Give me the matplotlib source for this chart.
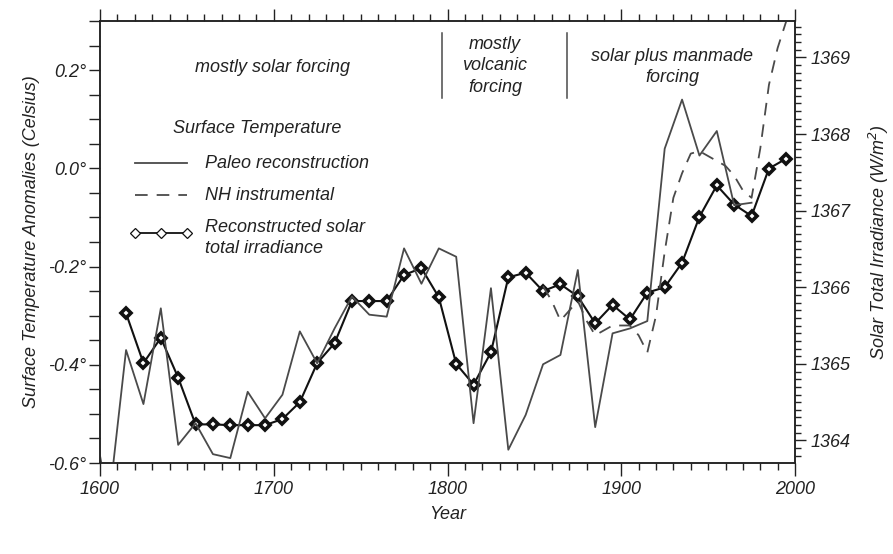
import matplotlib
matplotlib.use("Agg")
import matplotlib.pyplot as plt
from matplotlib.ticker import MultipleLocator, FixedLocator, FuncFormatter

plt.rcParams['font.family'] = ['Liberation Sans', 'DejaVu Sans']
plt.rcParams['font.style'] = 'italic'

# ---------------- data ----------------
paleo_years = [1595, 1605, 1615, 1625, 1635, 1645, 1655, 1665, 1675, 1685,
               1695, 1705, 1715, 1725, 1735, 1745, 1755, 1765, 1775, 1785,
               1795, 1805, 1815, 1825, 1835, 1845, 1855, 1865, 1875, 1885,
               1895, 1905, 1915, 1925, 1935, 1945, 1955, 1965, 1975]
paleo_temp = [-0.485, -0.685, -0.370, -0.480, -0.285, -0.563, -0.519, -0.582, -0.590, -0.455,
              -0.509, -0.461, -0.332, -0.397, -0.326, -0.261, -0.298, -0.302, -0.163, -0.235,
              -0.163, -0.180, -0.519, -0.244, -0.573, -0.502, -0.399, -0.380, -0.207, -0.527,
              -0.336, -0.326, -0.311, 0.040, 0.140, 0.026, 0.076, -0.075, -0.070]

nh_years = [1855, 1860, 1865, 1870, 1875, 1880, 1885, 1890, 1895, 1900,
            1905, 1910, 1915, 1920, 1925, 1930, 1935, 1940, 1945, 1950,
            1955, 1960, 1965, 1970, 1975, 1980, 1985, 1990, 1995]
nh_temp = [-0.24, -0.27, -0.31, -0.29, -0.27, -0.31, -0.34, -0.33, -0.32, -0.32,
           -0.32, -0.34, -0.375, -0.30, -0.17, -0.06, -0.01, 0.03, 0.035, 0.025,
           0.015, 0.005, -0.015, -0.045, -0.06, 0.04, 0.17, 0.245, 0.30]

solar_years = [1615, 1625, 1635, 1645, 1655, 1665, 1675, 1685, 1695, 1705,
               1715, 1725, 1735, 1745, 1755, 1765, 1775, 1785, 1795, 1805,
               1815, 1825, 1835, 1845, 1855, 1865, 1875, 1885, 1895, 1905,
               1915, 1925, 1935, 1945, 1955, 1965, 1975, 1985, 1995]
solar_tsi = [1365.66, 1365.01, 1365.34, 1364.82, 1364.21, 1364.21, 1364.20, 1364.20, 1364.20, 1364.28,
             1364.50, 1365.01, 1365.27, 1365.82, 1365.82, 1365.82, 1366.16, 1366.25, 1365.87, 1365.00,
             1364.73, 1365.15, 1366.13, 1366.19, 1365.95, 1366.04, 1365.88, 1365.53, 1365.77, 1365.58,
             1365.93, 1366.00, 1366.32, 1366.92, 1367.33, 1367.08, 1366.93, 1367.55, 1367.68]

left_ticks = [-0.6, -0.4, -0.2, 0.0, 0.2]
right_ticks = [1364, 1365, 1366, 1367, 1368, 1369]
x_ticks = [1600, 1700, 1800, 1900, 2000]

# ---------------- figure ----------------
W, H = 893, 554
fig = plt.figure(figsize=(W / 100, H / 100), dpi=100)
ax = fig.add_axes([100 / W, (H - 463) / H, 695 / W, 442 / H])
ax2 = ax.twinx()

gray = '#4a4a4a'
txt = '#222222'

ax.plot(paleo_years, paleo_temp, color=gray, lw=1.3, zorder=2)
ax.plot(nh_years, nh_temp, color=gray, lw=1.3, ls=(0, (7, 5)), zorder=2)
ax2.plot(solar_years, solar_tsi, color='#111111', lw=1.5, marker='D', markersize=5.5,
         markerfacecolor='white', markeredgecolor='#111111', markeredgewidth=2.6, zorder=3)

ax.set_xlim(1600, 2000)
ax.set_ylim(-0.6, 0.3)
ax2.set_ylim(1363.706, 1369.476)
ax.set_zorder(ax2.get_zorder() + 1)
ax.patch.set_visible(False)

# ticks
ax.xaxis.set_major_locator(FixedLocator(x_ticks))
ax.xaxis.set_minor_locator(MultipleLocator(10))
ax.yaxis.set_major_locator(FixedLocator(left_ticks))
ax.yaxis.set_minor_locator(MultipleLocator(0.05))
ax.yaxis.set_major_formatter(FuncFormatter(lambda v, p: f"{v:.1f}°".replace('-0.0', '0.0')))
ax2.yaxis.set_major_locator(FixedLocator(right_ticks))
ax2.yaxis.set_minor_locator(MultipleLocator(0.1))

ax.tick_params(axis='x', which='both', direction='out', top=True, labeltop=False,
               colors='#222222', labelsize=13, pad=4)
ax.tick_params(axis='x', which='major', length=9, width=1)
ax.tick_params(axis='x', which='minor', length=5, width=1)
ax.tick_params(axis='y', which='both', direction='out', labelsize=13, colors='#222222', pad=2)
ax.tick_params(axis='y', which='major', length=8, width=1)
ax.tick_params(axis='y', which='minor', length=8, width=1)
ax2.tick_params(axis='y', which='both', direction='out', labelsize=13, colors='#222222', pad=3)
ax2.tick_params(axis='y', which='major', length=8, width=1)
ax2.tick_params(axis='y', which='minor', length=4.5, width=1)

for a in (ax, ax2):
    for s in a.spines.values():
        s.set_linewidth(1.1)
        s.set_color('#222222')

ax.set_xlabel('Year', fontsize=13, color=txt, labelpad=6)
ax.set_ylabel('Surface Temperature Anomalies (Celsius)', fontsize=13, color=txt, labelpad=6)
ax2.set_ylabel('Solar Total Irradiance (W/m$^2$)', fontsize=13, color=txt, labelpad=12)

# annotations
T = ax.transAxes
ax.text(0.2475, 0.8937, 'mostly solar forcing', transform=T, ha='center', va='center',
        fontsize=13, color=txt)
ax.text(0.5683, 0.8982, 'mostly\nvolcanic\nforcing', transform=T, ha='center', va='center',
        fontsize=13, color=txt, linespacing=1.38)
ax.text(0.8230, 0.8959, 'solar plus manmade\nforcing', transform=T, ha='center', va='center',
        fontsize=13, color=txt, linespacing=1.3)
for xa in (0.4921, 0.6719):
    ax.plot([xa, xa], [0.8258, 0.9729], transform=T, color=gray, lw=1.1)

# legend (drawn manually)
ax.text(0.2255, 0.7579, 'Surface Temperature', transform=T, ha='center', va='center',
        fontsize=13, color=txt)
ax.plot([0.0504, 0.1252], [0.6787, 0.6787], transform=T, color=gray, lw=1.3)
ax.text(0.1511, 0.6787, 'Paleo reconstruction', transform=T, ha='left', va='center',
        fontsize=13, color=txt)
ax.plot([0.0504, 0.1252], [0.6063, 0.6063], transform=T, color=gray, lw=1.3, ls=(0, (7, 5)))
ax.text(0.1511, 0.6063, 'NH instrumental', transform=T, ha='left', va='center',
        fontsize=13, color=txt)
ax.plot([0.0504, 0.0878, 0.1252], [0.5204, 0.5204, 0.5204], transform=T, color='#111111',
        lw=1.3, marker='D', markersize=5.5, markerfacecolor='white',
        markeredgecolor='#111111', markeredgewidth=0.9)
ax.text(0.1511, 0.5090, 'Reconstructed solar\ntotal irradiance', transform=T, ha='left',
        va='center', fontsize=13, color=txt, linespacing=1.25)

fig.savefig('out.png', dpi=100)
